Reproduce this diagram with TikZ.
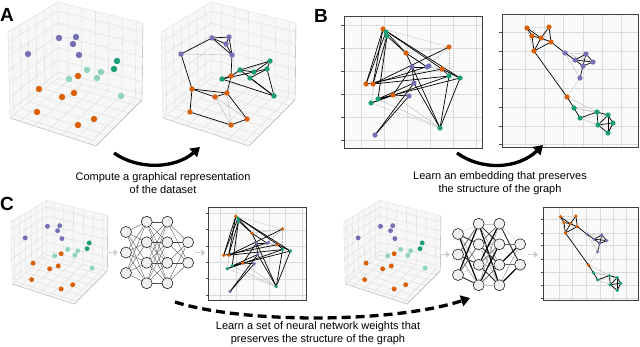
\documentclass[tikz,border=0pt]{standalone}
\usepackage{fontspec}
\setmainfont{Liberation Sans}
\usetikzlibrary{arrows.meta, calc, positioning}

\definecolor{dorange}{HTML}{D95F02}
\definecolor{dpurple}{HTML}{7570B3}
\definecolor{dgreen}{HTML}{1B9E77}
\definecolor{lgreen}{HTML}{8ED3BD}

% 3d axes box, in the coordinates of the first plot of panel A
\newcommand{\axesbox}{%
  \coordinate (T) at (58,2);
  \coordinate (O) at (58,78);
  \coordinate (Lt) at (8,32);
  \coordinate (Lb) at (10,118);
  \coordinate (Rt) at (143,23);
  \coordinate (Rb) at (142,100);
  \coordinate (F) at (96,146);
  \fill[pane] (T) -- (Lt) -- (Lb) -- (O) -- cycle;
  \fill[pane] (T) -- (Rt) -- (Rb) -- (O) -- cycle;
  \fill[pane] (O) -- (Lb) -- (F) -- (Rb) -- cycle;
  \foreach \t in {0.12,0.28,0.44,0.6,0.76,0.92} {
    \draw[gridline] ($(T)!\t!(Lt)$) -- ($(O)!\t!(Lb)$);
    \draw[gridline] ($(T)!\t!(Rt)$) -- ($(O)!\t!(Rb)$);
    \draw[gridline] ($(T)!\t!(O)$) -- ($(Lt)!\t!(Lb)$);
    \draw[gridline] ($(T)!\t!(O)$) -- ($(Rt)!\t!(Rb)$);
    \draw[gridline] ($(O)!\t!(Lb)$) -- ($(Rb)!\t!(F)$);
    \draw[gridline] ($(O)!\t!(Rb)$) -- ($(Lb)!\t!(F)$);
  }
  \draw[gridline] (Lt) -- (T) -- (Rt);
  \draw[gridline] (T) -- (O) (Lt) -- (Lb) -- (O) -- (Rb);
  \draw[axisline] (Lb) -- (F) -- (Rb);
  \draw[axisline] (Rt) -- (Rb);
}

% the point cloud
\newcommand{\cloudpoints}{%
  \coordinate (pu1) at (59,38); \coordinate (pu2) at (76,37);
  \coordinate (pu3) at (73,44); \coordinate (pu4) at (79,55);
  \coordinate (pu5) at (28,54);
  \coordinate (gr1) at (87,70); \coordinate (gr2) at (69,79);
  \coordinate (gr3) at (101,72); \coordinate (gr4) at (97,78);
  \coordinate (gr5) at (121,96); \coordinate (gr6) at (117,61);
  \coordinate (gr7) at (114,69);
  \coordinate (or1) at (78,76); \coordinate (or2) at (39,89);
  \coordinate (or3) at (74,93); \coordinate (or4) at (62,97);
  \coordinate (or5) at (37,112); \coordinate (or6) at (94,119);
  \coordinate (or7) at (78,125);
}
\newcommand{\clouddots}[2]{% dot radius, colour of the far green points
  \foreach \i in {1,...,5} \fill[dpurple] (pu\i) circle (#1);
  \foreach \i in {1,...,5} \fill[#2] (gr\i) circle (#1);
  \foreach \i in {6,7} \fill[dgreen] (gr\i) circle (#1);
  \foreach \i in {1,...,7} \fill[dorange] (or\i) circle (#1);
}

% graph drawn before the embedding is learned
\newcommand{\graphbefore}{%
  \fill[plotbg] (344,16) rectangle (482,148);
  \foreach \gx in {361,384,407,430,453,476}
    \draw[gridline] (\gx,16) -- (\gx,148);
  \foreach \gy in {25,48,71,94,117,140} {
    \draw[gridline] (344,\gy) -- (482,\gy);
    \draw[tickmark] (341,\gy) -- (344,\gy);
  }
  \coordinate (or1) at (383,29); \coordinate (or2) at (406,53);
  \coordinate (or3) at (449,47); \coordinate (or4) at (442,69);
  \coordinate (or5) at (366,84); \coordinate (or6) at (373,84);
  \coordinate (or7) at (393,95);
  \coordinate (gr1) at (386,32); \coordinate (gr2) at (387,36);
  \coordinate (gr3) at (449,76); \coordinate (gr4) at (460,78);
  \coordinate (gr5) at (378,99); \coordinate (gr6) at (371,103);
  \coordinate (gr7) at (440,128);
  \coordinate (pu1) at (412,67); \coordinate (pu2) at (427,67);
  \coordinate (pu3) at (429,66); \coordinate (pu4) at (414,83);
  \coordinate (pu5) at (409,96); \coordinate (pu6) at (375,135);
  \foreach \a/\b in {or2/or3, or3/pu2, gr5/gr7, or7/gr7, pu2/or4, or1/gr6,
      gr1/gr5, pu3/gr4}
    \draw[edgeweak] (\a) -- (\b);
  \foreach \a/\b in {or1/or3, or3/gr3, gr6/gr7}
    \draw[edgedash] (\a) -- (\b);
  \foreach \a/\b in {or1/or5, or1/or6, gr1/or5, gr2/or6, gr2/gr5, gr1/or2,
      gr2/or2, or1/gr4, or1/or4, or2/gr7, or6/or3, or6/pu3, or5/or4, or6/gr3,
      gr5/gr4, gr6/gr3, gr5/pu4, or7/pu5, or7/pu1, pu6/pu4, pu6/pu5, pu1/pu2,
      pu2/pu3, pu1/pu4, or4/gr3, gr3/gr7, gr4/gr7, pu4/gr7, or2/pu2, or4/gr4,
      gr6/or7, gr5/or7}
    \draw[edgestrong] (\a) -- (\b);
  \draw[frame] (344,16) rectangle (482,148);
  \foreach \i in {1,...,7} {
    \fill[dorange] (or\i) circle (2.6);
    \fill[dgreen] (gr\i) circle (2.6);
  }
  \foreach \i in {1,...,6} \fill[dpurple] (pu\i) circle (2.6);
}

% graph after the embedding is learned
\newcommand{\graphafter}{%
  \fill[plotbg] (502,14) rectangle (638,147);
  \foreach \gx in {525,544,563,583,602,621}
    \draw[gridline] (\gx,14) -- (\gx,147);
  \foreach \gy in {32,51,69,88,107,126,144} {
    \draw[gridline] (502,\gy) -- (638,\gy);
    \draw[tickmark] (499,\gy) -- (502,\gy);
  }
  \coordinate (or1) at (527,28); \coordinate (or2) at (549,27);
  \coordinate (or3) at (532,36); \coordinate (or4) at (541,38);
  \coordinate (or5) at (551,42); \coordinate (or6) at (534,51);
  \coordinate (or7) at (567,97);
  \coordinate (pu1) at (565,53); \coordinate (pu2) at (586,54);
  \coordinate (pu3) at (575,60); \coordinate (pu4) at (583,66);
  \coordinate (pu5) at (593,62); \coordinate (pu6) at (580,78);
  \coordinate (gr1) at (574,108); \coordinate (gr2) at (580,118);
  \coordinate (gr3) at (597,112); \coordinate (gr4) at (608,115);
  \coordinate (gr5) at (598,125); \coordinate (gr6) at (613,123);
  \coordinate (gr7) at (608,133);
  \foreach \a/\b in {or1/or6, pu1/pu2, pu1/pu6, or7/gr3, gr1/gr4, gr2/gr5,
      or3/or5}
    \draw[edgeweak] (\a) -- (\b);
  \foreach \a/\b in {or1/or2, pu6/or7, gr1/gr3, pu1/pu5, gr2/gr4}
    \draw[edgedash] (\a) -- (\b);
  \foreach \a/\b in {or1/or3, or1/or4, or3/or4, or2/or4, or2/or5, or4/or5,
      or3/or6, or4/or6, or5/or6, or6/or7, or5/pu1, pu1/pu3, pu3/pu2, pu2/pu4,
      pu3/pu4, pu2/pu5, pu4/pu5, pu4/pu6, pu3/pu5, or7/gr1, gr1/gr2, gr2/gr3,
      gr3/gr4, gr3/gr5, gr4/gr6, gr5/gr6, gr5/gr7, gr6/gr7, gr4/gr5, gr4/gr7}
    \draw[edgestrong] (\a) -- (\b);
  \draw[frame] (502,14) rectangle (638,147);
  \foreach \i in {1,...,7} {
    \fill[dorange] (or\i) circle (2.6);
    \fill[dgreen] (gr\i) circle (2.6);
  }
  \foreach \i in {1,...,6} \fill[dpurple] (pu\i) circle (2.6);
}

% neurons of a 3-4-4-2 network
\newcommand{\netlayers}[3]{% name prefix, x of first layer, centre y
  \foreach \l/\n in {1/3,2/4,3/4,4/2}
    \foreach \i in {1,...,\n}
      \node[neuron] (#1-\l-\i) at ({#2+(\l-1)*20.7},{#3+(\i-(\n+1)/2)*20.5}) {};
}

\begin{document}
\begin{tikzpicture}[x=1pt, y=-1pt,
    pane/.style={fill=gray!6},
    gridline/.style={draw=gray!28, line width=0.35pt},
    axisline/.style={draw=gray!65, line width=0.4pt},
    edgestrong/.style={draw=black, line width=0.7pt},
    edgeweak/.style={draw=gray!55, line width=0.4pt},
    edgedash/.style={draw=gray!60, line width=0.4pt, dash pattern=on 1.5pt off 1pt},
    plotbg/.style={fill=gray!4},
    frame/.style={draw=black!75, line width=0.8pt},
    tickmark/.style={draw=black!70, line width=0.4pt},
    neuron/.style={circle, draw=black, line width=0.5pt, fill=gray!12,
      minimum size=11pt, inner sep=0pt},
    weight/.style={draw=black!70, line width=0.35pt},
    flow/.style={draw=gray!40, line width=1.6pt, -{Triangle[length=4pt, width=6.5pt]}},
    bigarrow/.style={draw=black, line width=3.3pt, -{Triangle[length=9pt, width=11pt]}},
    dasharrow/.style={bigarrow, dash pattern=on 9pt off 5pt},
    caption/.style={align=center, inner sep=0pt, font=\fontsize{11}{12.5}\selectfont},
    panel/.style={inner sep=0pt, anchor=base west, font=\fontsize{19}{19}\selectfont\bfseries}
  ]
  \useasboundingbox (0,0) rectangle (640,346);

  % Panel A
  \axesbox
  \cloudpoints
  \clouddots{3.2}{lgreen}

  \begin{scope}[shift={(153,0)}]
    \axesbox
    \cloudpoints
    \foreach \a/\b in {or4/or7, or4/or6, or3/or7, gr2/gr7, gr2/gr6, pu5/pu4}
      \draw[edgeweak] (\a) -- (\b);
    \foreach \a/\b in {pu1/pu2, pu1/pu3, pu2/pu3, pu2/pu4, pu3/pu4, pu1/pu4,
        pu5/pu1, pu5/or2, pu4/or1, or1/gr2, or1/gr1, gr1/gr6, gr1/gr3, gr3/gr7,
        gr3/gr6, gr4/gr7, gr2/gr3, gr1/gr5, gr4/gr5, gr2/gr5, gr7/gr5, gr6/gr7,
        or2/or3, or2/or4, or4/or3, or2/or5, or5/or7, or7/or6, or3/or6, or3/or1}
      \draw[edgestrong] (\a) -- (\b);
    \clouddots{2.7}{dgreen}
  \end{scope}

  \node[panel] (labA) at (0,21) {A};
  \coordinate (arrA-start) at (114,153);
  \coordinate (arrA-end) at (200,147);
  \draw[bigarrow] (arrA-start) .. controls (138,170) and (175,169) .. (arrA-end);
  \node[caption] (capA) at (163,183) {Compute a graphical representation\\of the dataset};

  % Panel B
  \graphbefore
  \graphafter
  \node[panel] (labB) at (314,22) {B};
  \coordinate (arrB-start) at (457,153);
  \coordinate (arrB-end) at (543,145);
  \draw[bigarrow] (arrB-start) .. controls (482,171) and (518,169) .. (arrB-end);
  \node[caption] (capB) at (500,183) {Learn an embedding that preserves\\the structure of the graph};

  % Panel C
  \node[panel] (labC) at (0,210) {C};

  \begin{scope}[shift={(5,199)}, scale=0.72]
    \axesbox
    \cloudpoints
    \clouddots{3.4}{lgreen}
  \end{scope}

  \netlayers{na}{126}{252.5}
  \foreach \l/\k/\n/\m in {1/2/3/4,2/3/4/4,3/4/4/2}
    \foreach \i in {1,...,\n}
      \foreach \j in {1,...,\m}
        \draw[weight] (na-\l-\i) -- (na-\k-\j);

  \begin{scope}[shift={(-36.2,195.6)}, scale=0.71]
    \graphbefore
  \end{scope}

  \begin{scope}[shift={(338,199)}, scale=0.72]
    \axesbox
    \cloudpoints
    \clouddots{3.4}{lgreen}
  \end{scope}

  \netlayers{nb}{458}{254.5}
  \foreach \l/\k/\n/\m in {1/2/3/4,2/3/4/4,3/4/4/2}
    \foreach \i in {1,...,\n}
      \foreach \j in {1,...,\m} {
        \pgfmathtruncatemacro\w{mod(7*\i+3*\j+5*\l,5)}
        \pgfmathtruncatemacro\c{25+18*\w}
        \pgfmathsetmacro\lw{0.25+0.25*\w}
        \draw[draw=black!\c, line width=\lw pt] (nb-\l-\i) -- (nb-\k-\j);
      }

  \begin{scope}[shift={(191.6,197.2)}, scale=0.7]
    \graphafter
  \end{scope}

  \draw[flow] ([xshift=-12.5pt]na-1-2.west) -- ([xshift=-2.5pt]na-1-2.west);
  \draw[flow] ($(na-4-1.east)!0.5!(na-4-2.east)+(1.5,0)$) -- ($(na-4-1.east)!0.5!(na-4-2.east)+(11.5,0)$);
  \draw[flow] ([xshift=-12.5pt]nb-1-2.west) -- ([xshift=-2.5pt]nb-1-2.west);
  \draw[flow] ($(nb-4-1.east)!0.5!(nb-4-2.east)+(2,0)$) -- ($(nb-4-1.east)!0.5!(nb-4-2.east)+(12,0)$);

  \coordinate (arrC-start) at (175,302);
  \coordinate (arrC-end) at (470,298);
  \draw[dasharrow] (arrC-start) .. controls (245,324) and (395,323) .. (arrC-end);
  \node[caption] (capC) at (318,333) {Learn a set of neural network weights that\\preserves the structure of the graph};
\end{tikzpicture}
\end{document}
